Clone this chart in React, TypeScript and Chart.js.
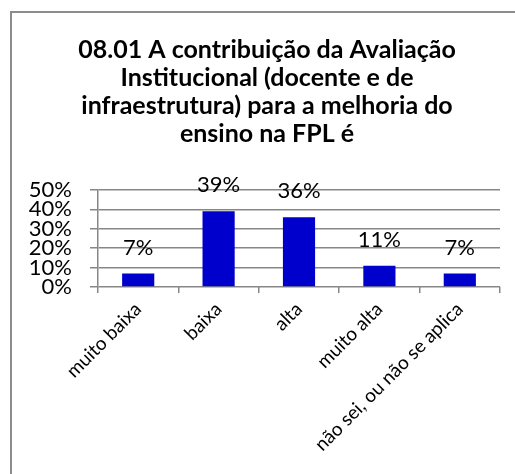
import React, { useEffect, useRef } from "react";
import { Chart, registerables } from "chart.js";

Chart.register(...registerables);

const TITLE_LINES = [
  "08.01 A contribuição da Avaliação",
  "Institucional (docente e de",
  "infraestrutura) para a melhoria do",
  "ensino na FPL é",
];
const CATEGORIES = ["muito baixa", "baixa", "alta", "muito alta", "não sei, ou não se aplica"];
const VALUES = [7, 39, 36, 11, 7];
const Y_MIN = 0;
const Y_MAX = 50;
const Y_STEP = 10;

const GRID = "#878787";
const FONT = "Lato";

const framePlugin = {
  id: "frame",
  beforeDraw(chart: any) {
    const { ctx, width, height } = chart;
    ctx.save();
    ctx.fillStyle = "#ffffff";
    ctx.fillRect(0, 0, width, height);
    ctx.strokeStyle = "#8c8c8c";
    ctx.lineWidth = 2;
    ctx.beginPath();
    ctx.moveTo(11, height + 2);
    ctx.lineTo(11, 12);
    ctx.lineTo(width + 2, 12);
    ctx.stroke();
    ctx.restore();
  },
};

const titlePlugin = {
  id: "customTitle",
  afterDraw(chart: any) {
    const { ctx } = chart;
    ctx.save();
    ctx.font = `bold 25px ${FONT}`;
    ctx.fillStyle = "#000000";
    ctx.textAlign = "center";
    ctx.textBaseline = "alphabetic";
    const cx = 267;
    TITLE_LINES.forEach((line, i) => {
      ctx.fillText(line, cx, 58 + i * 28);
    });
    ctx.restore();
  },
};

const valueLabelPlugin = {
  id: "valueLabels",
  afterDatasetsDraw(chart: any) {
    const { ctx } = chart;
    const meta = chart.getDatasetMeta(0);
    ctx.save();
    ctx.font = `22px ${FONT}`;
    ctx.fillStyle = "#000000";
    ctx.textAlign = "center";
    ctx.textBaseline = "middle";
    meta.data.forEach((bar: any, i: number) => {
      ctx.fillText(`${VALUES[i]}%`, bar.x, bar.y - 26);
    });
    ctx.restore();
  },
};

export default function App() {
  const ref = useRef<HTMLCanvasElement | null>(null);
  useEffect(() => {
    document.body.style.margin = "0";
    const canvas = ref.current;
    if (!canvas) return;
    const chart = new Chart(canvas, {
      type: "bar",
      data: {
        labels: CATEGORIES,
        datasets: [
          {
            data: VALUES,
            backgroundColor: "#0000cc",
            borderWidth: 0,
            barPercentage: 0.4,
            categoryPercentage: 1,
          },
        ],
      },
      options: {
        responsive: false,
        animation: false,
        devicePixelRatio: 1,
        layout: { padding: { left: 10, right: 15, top: 190, bottom: 0 } },
        plugins: {
          legend: { display: false },
          tooltip: { enabled: false },
          title: { display: false },
        },
        scales: {
          x: {
            grid: {
              offset: true,
              drawOnChartArea: false,
              drawTicks: true,
              tickLength: 6,
              color: GRID,
              lineWidth: 1.5,
            },
            border: { display: false },
            ticks: {
              maxRotation: 45,
              minRotation: 45,
              autoSkip: false,
              color: "#000000",
              font: { family: FONT, size: 19 },
              padding: 5,
            },
            afterFit(scale: any) {
              scale.height = 187;
            },
          },
          y: {
            min: Y_MIN,
            max: Y_MAX,
            grid: { color: GRID, lineWidth: 1.5, tickLength: 8 },
            border: { display: true, color: GRID, width: 1.5 },
            ticks: {
              stepSize: Y_STEP,
              autoSkip: false,
              color: "#000000",
              font: { family: FONT, size: 22 },
              padding: 18,
              callback: (v: any) => `${v}%`,
            },
            afterFit(scale: any) {
              scale.width = 88;
            },
          },
        },
      },
      plugins: [framePlugin, titlePlugin, valueLabelPlugin],
    });
    return () => chart.destroy();
  }, []);
  return (
    <div style={{ position: "fixed", left: 0, top: 0, width: 515, height: 474, background: "#fff" }}>
      <canvas ref={ref} width={515} height={474} style={{ display: "block" }} />
    </div>
  );
}
